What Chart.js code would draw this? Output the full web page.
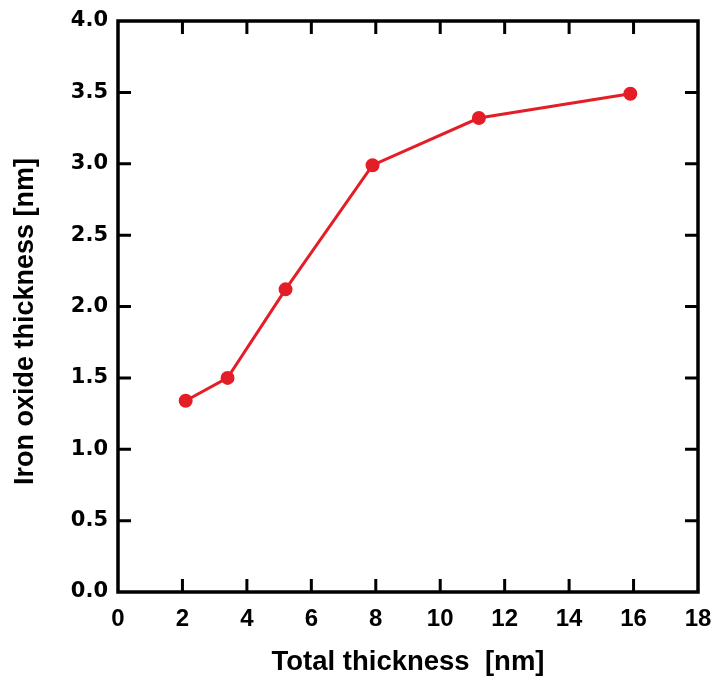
<!DOCTYPE html>
<html>
<head>
<meta charset="utf-8">
<script src="https://cdn.jsdelivr.net/npm/chart.js@4"></script>
<style>
  html, body { margin: 0; padding: 0; background: #fff; }
  #wrap { width: 716px; height: 681px; }
</style>
</head>
<body>
<div id="wrap"><canvas id="oxideChart"></canvas></div>
<script>
const totalThickness = [2.1, 3.4, 5.2, 7.9, 11.2, 15.9];
const oxideThickness = [1.34, 1.50, 2.12, 2.99, 3.32, 3.49];
const xTicks = [0, 2, 4, 6, 8, 10, 12, 14, 16, 18];
const yTicks = [0, 0.5, 1, 1.5, 2, 2.5, 3, 3.5, 4];

// frame plus inward ticks on all four sides
const frameTicks = {
    id: "frameTicks",
    afterDraw(chart) {
        const { ctx, chartArea: a, scales } = chart;
        const len = 13;
        ctx.save();
        ctx.strokeStyle = "#000";
        ctx.lineWidth = 3;
        ctx.beginPath();
        scales.x.ticks.forEach(t => {
            const px = scales.x.getPixelForValue(t.value);
            if (px <= a.left + 1 || px >= a.right - 1) return;
            ctx.moveTo(px, a.bottom); ctx.lineTo(px, a.bottom - len);
            ctx.moveTo(px, a.top); ctx.lineTo(px, a.top + len);
        });
        scales.y.ticks.forEach(t => {
            const py = scales.y.getPixelForValue(t.value);
            if (py <= a.top + 1 || py >= a.bottom - 1) return;
            ctx.moveTo(a.left, py); ctx.lineTo(a.left + len, py);
            ctx.moveTo(a.right, py); ctx.lineTo(a.right - len, py);
        });
        ctx.stroke();
        ctx.lineWidth = 3.5;
        ctx.strokeRect(a.left, a.top, a.right - a.left, a.bottom - a.top);
        ctx.restore();
    }
};

new Chart(document.getElementById("oxideChart"), {
    type: "line",
    data: {
        datasets: [{
            data: totalThickness.map((x, i) => ({ x, y: oxideThickness[i] })),
            borderColor: "#e31e26",
            backgroundColor: "#e31e26",
            borderWidth: 3,
            pointRadius: 5.5,
            pointHoverRadius: 5.5,
            tension: 0,
        }],
    },
    options: {
        responsive: true,
        maintainAspectRatio: false,
        animation: false,
        layout: { padding: { top: 21, right: 18, left: 0, bottom: 0 } },
        plugins: { legend: { display: false }, tooltip: { enabled: false } },
        scales: {
            x: {
                type: "linear",
                min: 0,
                max: 18,
                afterBuildTicks: s => { s.ticks = xTicks.map(v => ({ value: v })); },
                afterFit: s => { s.height = 89; s.paddingLeft = 0; s.paddingRight = 0; },
                grid: { display: false, drawTicks: false },
                border: { display: false },
                ticks: {
                    padding: 13,
                    color: "#000",
                    maxRotation: 0,
                    font: { family: "Liberation Sans, Arial", weight: "bold", size: 24 },
                },
                title: {
                    display: true,
                    text: "Total thickness  [nm]",
                    color: "#000",
                    padding: { top: 0, bottom: 2 },
                    font: { family: "Liberation Sans, Arial", weight: "bold", size: 27.5 },
                },
            },
            y: {
                min: 0,
                max: 4,
                afterBuildTicks: s => { s.ticks = yTicks.map(v => ({ value: v })); },
                afterFit: s => { s.width = 118; s.paddingTop = 0; s.paddingBottom = 0; },
                grid: { display: false, drawTicks: false },
                border: { display: false },
                ticks: {
                    padding: 10,
                    color: "#000",
                    callback: v => v.toFixed(1),
                    font: { family: "DejaVu Sans", weight: "bold", size: 21 },
                },
                title: {
                    display: true,
                    text: "Iron oxide thickness [nm]    ",
                    color: "#000",
                    padding: { top: 9, bottom: 0 },
                    font: { family: "Liberation Sans, Arial", weight: "bold", size: 27 },
                },
            },
        },
    },
    plugins: [frameTicks],
});
</script>
</body>
</html>
